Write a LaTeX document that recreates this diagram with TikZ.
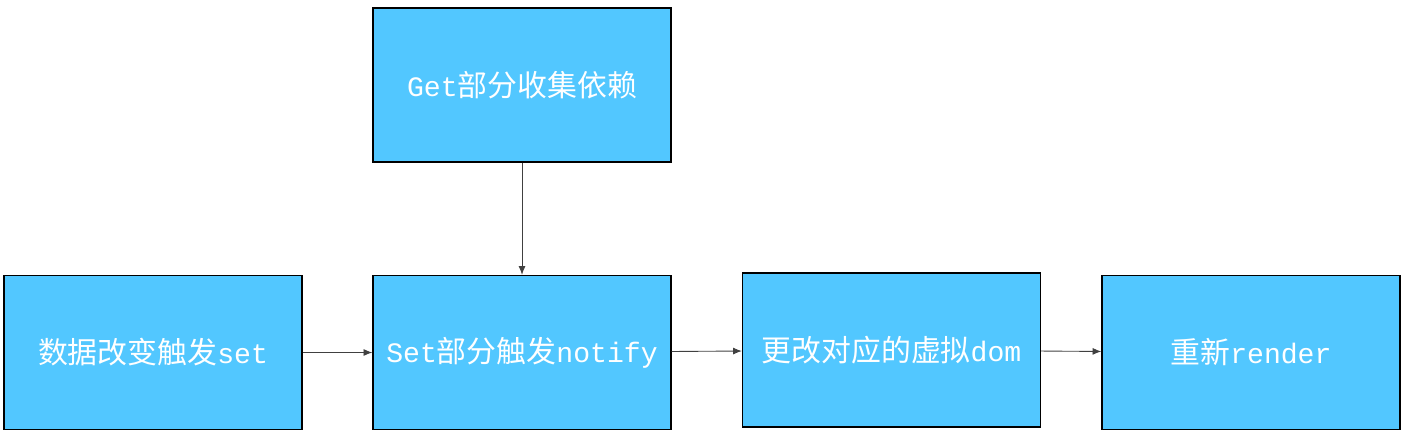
\documentclass[tikz,border=0pt]{standalone}
\usepackage{fontspec}
\setmainfont{Liberation Mono}
\newfontfamily\cjk{Noto Sans CJK SC}
\usetikzlibrary{arrows.meta}

\definecolor{boxblue}{HTML}{52C7FF}
\definecolor{linegray}{HTML}{404040}

\newcommand{\zh}[1]{{\cjk\fontsize{17}{20}\selectfont #1}}

\tikzset{
  stagebox/.style={draw=black, line width=0.8pt, fill=boxblue, text=white,
    minimum width=5.96cm, minimum height=3.08cm, inner sep=0pt,
    font=\fontsize{16}{20}\selectfont},
  flow/.style={draw=linegray, line width=0.5pt, -{Latex[length=5pt,width=4pt]}}
}

\begin{document}
\begin{tikzpicture}[x=0.02cm, y=-0.02cm]
    \useasboundingbox (0,0) rectangle (1406,439);
    % boxes
    \node[stagebox] (get)    at (522,85)    {Get\zh{部分收集依赖}};
    \node[stagebox] (change) at (153,352.5) {\zh{数据改变触发}set};
    \node[stagebox] (notify) at (522,352.5) {Set\zh{部分触发}notify};
    \node[stagebox] (vdom)   at (891.5,350) {\zh{更改对应的虚拟}dom};
    \node[stagebox] (render) at (1251,352.5) {\zh{重新}render};
    % connectors
    \draw[flow] (get) -- (notify);
    \draw[flow] (change) -- (notify);
    \draw[flow] (notify) -- (vdom);
    \draw[flow] (vdom) -- (render);
\end{tikzpicture}
\end{document}
